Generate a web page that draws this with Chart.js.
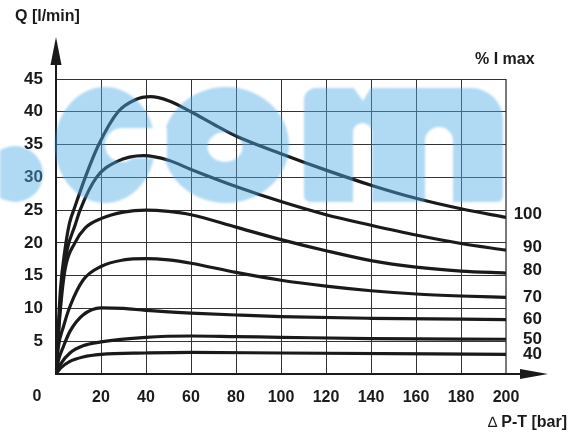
<!DOCTYPE html>
<html>
<head>
<meta charset="utf-8">
<script src="https://cdn.jsdelivr.net/npm/chart.js@4.4.1/dist/chart.umd.min.js"></script>
<style>
  html, body { margin: 0; padding: 0; background: #fff; }
  #wrap { width: 579px; height: 437px; position: relative; }
</style>
</head>
<body>
<div id="wrap"><canvas id="flowChart"></canvas></div>
<script>
// flow Q [l/min] against pressure drop P-T [bar], one curve per % of I max
const currentLevels = ['100', '90', '80', '70', '60', '50', '40'];
const xTickValues = [0, 20, 40, 60, 80, 100, 120, 140, 160, 180, 200];
const yTickValues = [0, 5, 10, 15, 20, 25, 30, 35, 40, 45];

const curve100 = [[0, 0], [1, 7], [2, 13], [4, 19], [6, 23], [8.4, 25.5], [13, 30], [19, 35], [27.6, 40],
    [35, 41.8], [42, 42.3], [50, 41.7], [60, 40], [70, 38.1], [80, 36.3], [100, 33.6], [120, 31.1],
    [140, 28.8], [160, 26.8], [180, 25.2], [200, 23.9]];
const curve90 = [[0, 0], [1, 6], [2.5, 13], [5, 19], [8.4, 22.6], [10.7, 25], [18, 30], [27, 32.4], [39, 33.3],
    [50, 32.6], [60, 31.2], [80, 28.6], [100, 26.3], [120, 24.3], [140, 22.7], [160, 21.2], [180, 19.9], [200, 18.9]];
const curve80 = [[0, 0], [1.5, 8], [4, 15.9], [8.4, 20], [13, 22.3], [20, 23.7], [30, 24.7], [40, 25],
    [50, 24.8], [60, 24.3], [80, 22.4], [100, 20.5], [120, 18.8], [140, 17.3], [160, 16.3], [180, 15.7], [200, 15.4]];
const curve70 = [[0, 0], [1, 4], [3.3, 7.2], [6.2, 10.3], [12, 14.3], [20, 16.4], [30, 17.4], [40, 17.6],
    [50, 17.4], [60, 16.9], [80, 15.5], [100, 14.3], [120, 13.4], [140, 12.7], [160, 12.2], [180, 11.9], [200, 11.7]];
const curve60 = [[0, 0], [1, 2], [3.3, 4.2], [6.2, 6.5], [12, 9], [20, 10.1], [30, 10], [40, 9.7],
    [60, 9.3], [80, 9], [100, 8.75], [140, 8.5], [200, 8.3]];
const curve50 = [[0, 0], [2, 1.5], [6.2, 3.2], [12, 4.3], [20, 4.9], [40, 5.6], [60, 5.8], [80, 5.7],
    [100, 5.6], [140, 5.4], [200, 5.3]];
const curve40 = [[0, 0], [2, 0.9], [6, 1.9], [12, 2.6], [20, 3], [40, 3.2], [60, 3.3], [100, 3.2], [200, 3]];

const curves = [curve100, curve90, curve80, curve70, curve60, curve50, curve40];

const FONT = "'Liberation Sans', Arial, sans-serif";
const INK = '#1a1a1a';

// axis arrows, titles, curve labels, then the blue ".com" watermark on top
const decorPlugin = {
    id: 'decor',
    afterDraw(chart) {
        const ctx = chart.ctx;
        const area = chart.chartArea;
        const yScale = chart.scales.y;
        ctx.save();

        // y axis arrow
        ctx.strokeStyle = INK;
        ctx.fillStyle = INK;
        ctx.lineWidth = 2;
        ctx.beginPath();
        ctx.moveTo(area.left, area.top);
        ctx.lineTo(area.left, 62);
        ctx.stroke();
        ctx.beginPath();
        ctx.moveTo(area.left, 37);
        ctx.lineTo(area.left - 5.5, 65);
        ctx.lineTo(area.left + 5.5, 65);
        ctx.closePath();
        ctx.fill();

        // x axis arrow
        ctx.beginPath();
        ctx.moveTo(area.right, area.bottom);
        ctx.lineTo(524, area.bottom);
        ctx.stroke();
        ctx.beginPath();
        ctx.moveTo(548, area.bottom);
        ctx.lineTo(520, area.bottom - 5);
        ctx.lineTo(520, area.bottom + 5);
        ctx.closePath();
        ctx.fill();

        // titles
        ctx.font = 'bold 16px ' + FONT;
        ctx.textBaseline = 'middle';
        ctx.textAlign = 'left';
        ctx.fillText('Q [l/min]', 15, 17);
        ctx.fillText('% I max', 475, 60);
        ctx.textAlign = 'right';
        ctx.fillText('P-T [bar]', 567, 423);
        const pw = ctx.measureText('P-T [bar]').width;
        ctx.font = '15px ' + FONT;
        ctx.fillText('\u2206', 567 - pw - 4, 423);

        // origin label sits left of the axis corner
        ctx.font = 'bold 16px ' + FONT;
        ctx.textAlign = 'center';
        ctx.fillText('0', 37, 397);

        // curve labels at the right end
        ctx.font = 'bold 17px ' + FONT;
        ctx.textAlign = 'right';
        chart.data.datasets.forEach((ds, i) => {
            const last = ds.data[ds.data.length - 1];
            ctx.fillText(currentLevels[i], 542, yScale.getPixelForValue(last.y) - (i < 3 ? 3 : 0));
        });
        ctx.restore();

        drawWatermark(ctx);
    }
};

function drawWatermark(ctx) {
    const off = document.createElement('canvas');
    off.width = 579;
    off.height = 437;
    const o = off.getContext('2d');
    o.fillStyle = 'rgb(80, 170, 230)';

    // dot
    o.beginPath();
    o.arc(15, 174, 28, 0, Math.PI * 2);
    o.fill();
    // c
    o.beginPath();
    o.ellipse(105, 145, 50, 58, 0, 0, Math.PI * 2);
    o.fill();
    // o
    o.beginPath();
    o.ellipse(226, 145, 63, 58, 0, 0, Math.PI * 2);
    o.fill();
    // m
    o.beginPath();
    o.roundRect(304, 88, 199, 114, [12, 32, 6, 6]);
    o.fill();

    o.globalCompositeOperation = 'destination-out';
    // c counter and opening
    o.beginPath();
    o.arc(122, 145, 17, 0, Math.PI * 2);
    o.fill();
    o.fillRect(122, 128, 45, 30);
    // o hole
    o.beginPath();
    o.ellipse(225, 147, 17.5, 15, 0, 0, Math.PI * 2);
    o.fill();
    // m gaps
    o.beginPath();
    o.roundRect(353, 123, 19, 90, [9, 9, 0, 0]);
    o.roundRect(425, 127, 28, 90, [14, 14, 0, 0]);
    o.fill();
    o.beginPath();
    o.moveTo(351, 84);
    o.lineTo(373, 84);
    o.lineTo(363, 101);
    o.closePath();
    o.fill();

    ctx.save();
    ctx.globalAlpha = 0.45;
    ctx.filter = 'blur(0.8px)';
    ctx.drawImage(off, 0, 0);
    ctx.restore();
}

const datasets = curves.map((pts, i) => ({
    label: currentLevels[i],
    data: pts.map(p => ({ x: p[0], y: p[1] })),
    borderColor: INK,
    borderWidth: 3.2,
    pointRadius: 0,
    fill: false,
    cubicInterpolationMode: 'monotone'
}));

new Chart(document.getElementById('flowChart'), {
    type: 'line',
    data: { datasets: datasets },
    plugins: [decorPlugin],
    options: {
        responsive: true,
        maintainAspectRatio: false,
        animation: false,
        layout: { padding: { top: 79, right: 73, left: 0, bottom: 0 } },
        plugins: {
            legend: { display: false },
            tooltip: { enabled: false }
        },
        scales: {
            x: {
                type: 'linear',
                min: 0,
                max: 200,
                afterFit: (scale) => { scale.height = 63; },
                afterBuildTicks: (scale) => { scale.ticks = xTickValues.map(v => ({ value: v })); },
                border: { color: INK, width: 2 },
                grid: {
                    drawTicks: false,
                    color: (c) => c.tick && c.tick.value === 200 ? '#7a7a7a' : '#333',
                    lineWidth: (c) => c.tick && c.tick.value === 200 ? 2 : 1
                },
                ticks: {
                    padding: 14,
                    color: INK,
                    font: { family: FONT, size: 16, weight: 'bold' },
                    callback: (v) => v === 0 ? '' : v
                }
            },
            y: {
                min: 0,
                max: 45,
                afterFit: (scale) => { scale.width = 56; },
                afterBuildTicks: (scale) => { scale.ticks = yTickValues.map(v => ({ value: v })); },
                border: { color: INK, width: 2 },
                grid: { drawTicks: false, color: '#333', lineWidth: 1 },
                ticks: {
                    padding: 13,
                    color: INK,
                    font: { family: FONT, size: 17, weight: 'bold' },
                    callback: (v) => v === 0 ? '' : v
                }
            }
        }
    }
});
</script>
</body>
</html>
